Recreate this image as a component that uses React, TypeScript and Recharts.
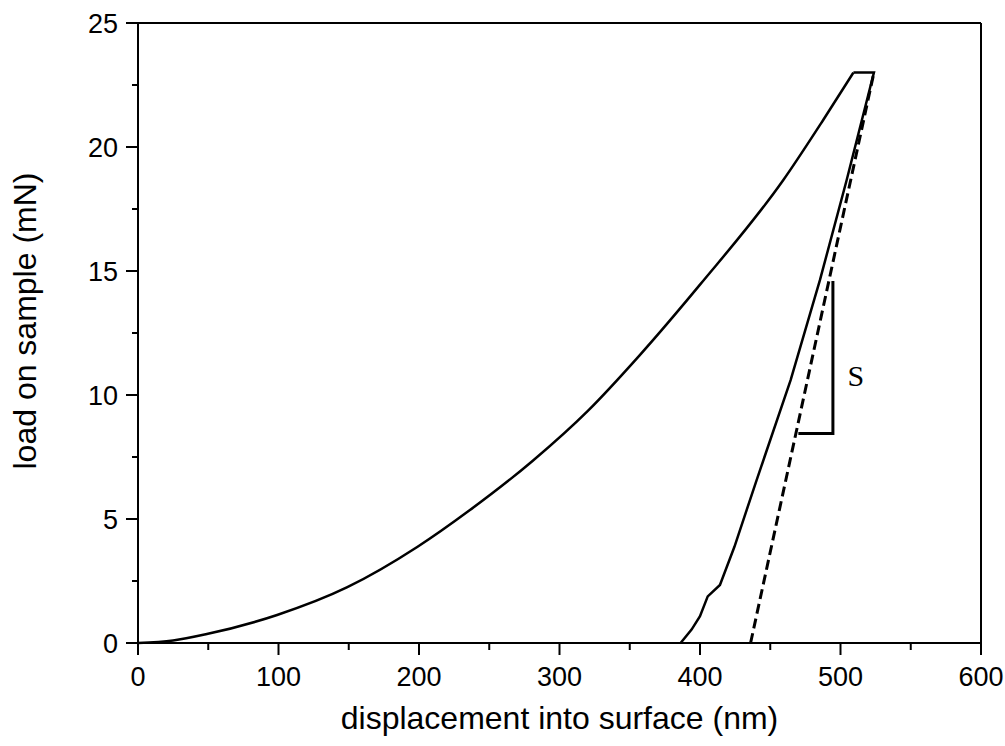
import React from 'react';
import { LineChart, Line, XAxis, YAxis, ReferenceLine, ReferenceDot } from 'recharts';

// loading branch (nm, mN)
const loadingDepth = [0, 25, 49, 99, 149, 199, 236, 281, 320, 357, 400, 459.3, 487.8, 509.2];
const loadingForce = [0, 0.1, 0.36, 1.13, 2.25, 3.88, 5.35, 7.35, 9.35, 11.6, 14.45, 18.67, 21.1, 23.0];

// hold at peak + unloading branch
const unloadingDepth = [509.2, 523.8, 504.4, 485.4, 464.5, 440.3, 424.5, 414.2, 405.5, 400, 394, 386.2];
const unloadingForce = [23.0, 23.0, 18.67, 14.64, 10.6, 6.57, 3.88, 2.34, 1.88, 1.08, 0.54, 0];

// tangent to the top of the unloading curve
const tangentDepth = [436, 523.8];
const tangentForce = [0, 23.0];

// stiffness triangle
const slopeDepth = [470, 494.6, 494.6];
const slopeForce = [8.45, 8.45, 14.6];

const xTicks = [0, 50, 100, 150, 200, 250, 300, 350, 400, 450, 500, 550, 600];
const yTicks = [0, 2.5, 5, 7.5, 10, 12.5, 15, 17.5, 20, 22.5, 25];

const toRows = (h: number[], p: number[]) => h.map((v, i) => ({ h: v, p: p[i] }));

const loading = toRows(loadingDepth, loadingForce);
const unloading = toRows(unloadingDepth, unloadingForce);
const tangent = toRows(tangentDepth, tangentForce);
const slope = toRows(slopeDepth, slopeForce);

const SANS = '"Liberation Sans", Arial, sans-serif';

const XTick = (props: any) => {
  const { x, y, payload } = props;
  const major = payload.value % 100 === 0;
  return (
    <g>
      <line x1={x} x2={x} y1={y} y2={y + (major ? 12 : 7)} stroke="#000" strokeWidth={2} />
      {major && (
        <text x={x} y={y + 43} textAnchor="middle" fontSize={27} fontFamily={SANS} fill="#000">
          {payload.value}
        </text>
      )}
    </g>
  );
};

const YTick = (props: any) => {
  const { x, y, payload } = props;
  const major = payload.value % 5 === 0;
  return (
    <g>
      <line x1={x - (major ? 12 : 6)} x2={x} y1={y} y2={y} stroke="#000" strokeWidth={2} />
      {major && (
        <text x={x - 20} y={y + 9.5} textAnchor="end" fontSize={27} fontFamily={SANS} fill="#000">
          {payload.value}
        </text>
      )}
    </g>
  );
};

const YTitle = ({ viewBox }: any) => {
  const cx = viewBox.x + 36;
  const cy = viewBox.y + viewBox.height / 2 - 12;
  return (
    <text x={cx} y={cy} transform={`rotate(-90 ${cx} ${cy})`} textAnchor="middle" fontSize={32} fontFamily={SANS} fill="#000">
      load on sample (mN)
    </text>
  );
};

export default function App() {
  return (
    <div style={{ position: 'absolute', left: 0, top: 0, background: '#fff' }}>
      <LineChart width={1005} height={746} margin={{ top: 23, right: 24, bottom: 0, left: 0 }}>
        <XAxis
          type="number"
          dataKey="h"
          domain={[0, 600]}
          ticks={xTicks}
          interval={0}
          height={103}
          tickSize={0}
          tickMargin={0}
          tickLine={false}
          tick={<XTick />}
          axisLine={{ stroke: '#000', strokeWidth: 2 }}
          label={{ value: 'displacement into surface (nm)', position: 'insideBottom', offset: 17, fontSize: 32, fontFamily: SANS, fill: '#000' }}
        />
        <YAxis
          type="number"
          dataKey="p"
          domain={[0, 25]}
          ticks={yTicks}
          interval={0}
          width={138}
          tickSize={0}
          tickMargin={0}
          tickLine={false}
          tick={<YTick />}
          axisLine={{ stroke: '#000', strokeWidth: 2 }}
          label={{ content: <YTitle /> }}
        />
        <ReferenceLine y={25} stroke="#000" strokeWidth={2} />
        <ReferenceLine x={600} stroke="#000" strokeWidth={2} />
        <Line data={loading} dataKey="p" type="monotone" stroke="#000" strokeWidth={2.5} dot={false} activeDot={false} isAnimationActive={false} />
        <Line data={unloading} dataKey="p" type="linear" stroke="#000" strokeWidth={2.5} dot={false} activeDot={false} isAnimationActive={false} />
        <Line data={tangent} dataKey="p" type="linear" stroke="#000" strokeWidth={3} strokeDasharray="10 5" dot={false} activeDot={false} isAnimationActive={false} />
        <Line data={slope} dataKey="p" type="linear" stroke="#000" strokeWidth={3} dot={false} activeDot={false} isAnimationActive={false} />
        <ReferenceDot
          x={511}
          y={10.8}
          r={0}
          fill="none"
          stroke="none"
          label={{ value: 'S', position: 'center', fontSize: 30, fontFamily: '"Liberation Serif", "Times New Roman", serif', fill: '#000' }}
        />
      </LineChart>
    </div>
  );
}
